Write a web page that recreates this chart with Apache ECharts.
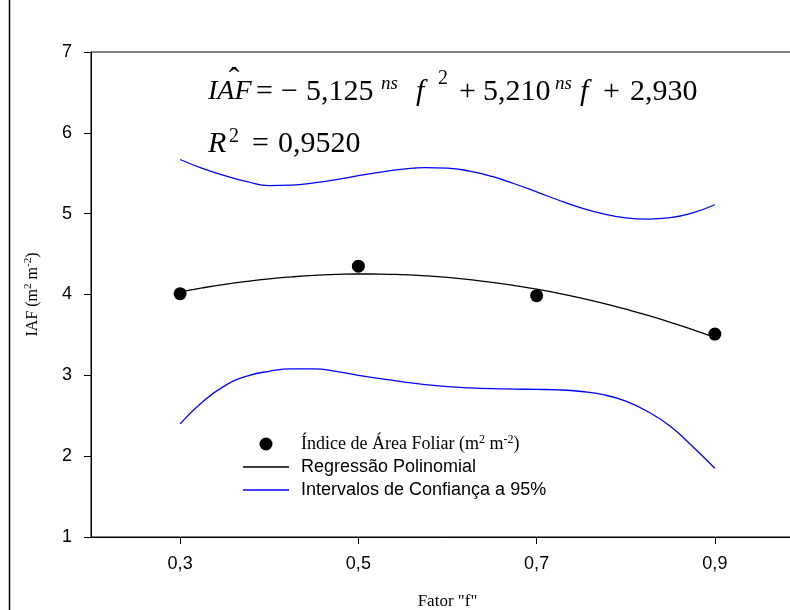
<!DOCTYPE html>
<html>
<head>
<meta charset="utf-8">
<script src="https://cdn.jsdelivr.net/npm/echarts@6/dist/echarts.min.js"></script>
<style>
html,body{margin:0;padding:0;background:#fff;}
#chart{width:790px;height:610px;}
</style>
</head>
<body>
<div id="chart"></div>
<script>
// ---- data ----
const curveF = [0.300, 0.325, 0.350, 0.375, 0.400, 0.425, 0.450, 0.475, 0.500, 0.525, 0.550, 0.575, 0.600,
                0.625, 0.650, 0.675, 0.700, 0.725, 0.750, 0.775, 0.800, 0.825, 0.850, 0.875, 0.900];
const regressionIAF = [4.032, 4.082, 4.126, 4.163, 4.194, 4.218, 4.237, 4.248, 4.254, 4.253, 4.245, 4.231, 4.211,
                       4.184, 4.151, 4.111, 4.066, 4.014, 3.955, 3.890, 3.818, 3.741, 3.656, 3.566, 3.468];
const upperCI = [5.67, 5.56, 5.47, 5.395, 5.347, 5.352, 5.38, 5.42, 5.47, 5.515, 5.55, 5.57, 5.564,
                 5.526, 5.46, 5.37, 5.27, 5.166, 5.072, 4.996, 4.948, 4.932, 4.95, 5.01, 5.11];
const lowerCI = [2.40, 2.67, 2.87, 2.99, 3.05, 3.08, 3.08, 3.05, 3.00, 2.96, 2.92, 2.885, 2.86,
                 2.845, 2.835, 2.83, 2.826, 2.82, 2.80, 2.76, 2.68, 2.55, 2.37, 2.12, 1.85];
const pointF = [0.3, 0.5, 0.7, 0.9];
const pointIAF = [4.01, 4.35, 3.985, 3.51];
const xTickValues = [0.3, 0.5, 0.7, 0.9];
const yMin = 1, yMax = 7, yStep = 1;
const seriesNames = ['Índice de Área Foliar (m2 m-2)', 'Regressão Polinomial', 'Intervalos de Confiança a 95%'];

const zip = (a, b) => a.map((v, i) => [v, b[i]]);

const SERIF = '"Liberation Serif", "Times New Roman", serif';
const SANS = '"Liberation Sans", Arial, sans-serif';

function t(x, y, text, font) {
  return { type: 'text', x: x, y: y, silent: true,
    style: { text: text, font: font, fill: '#000', align: 'left', verticalAlign: 'middle' } };
}
const F30 = '30px ' + SERIF, I30 = 'italic 30px ' + SERIF, I28 = 'italic 28px ' + SERIF,
      I19 = 'italic 19px ' + SERIF, F20 = '20px ' + SERIF;
const LINE_ICON = 'path://M0,0H46V1.3H0Z';

const chart = echarts.init(document.getElementById('chart'), null, { renderer: 'canvas' });
chart.setOption({
  animation: false,
  backgroundColor: '#fff',
  grid: { left: 91, top: 52, width: 713, height: 485, show: true, borderColor: '#000', borderWidth: 1,
          outerBoundsMode: 'none', containLabel: false },
  xAxis: {
    type: 'value', min: 0.2, max: 1.0,
    axisLine: { lineStyle: { color: '#000', width: 1 } },
    axisTick: { show: true, inside: false, length: 7, customValues: xTickValues, lineStyle: { color: '#000' } },
    axisLabel: { customValues: xTickValues, formatter: v => v.toFixed(1).replace('.', ','),
      fontFamily: SANS, fontSize: 18, color: '#000', margin: 18 },
    splitLine: { show: false },
    name: 'Fator "f"', nameLocation: 'middle', nameGap: 56,
    nameTextStyle: { fontFamily: SERIF, fontSize: 17, color: '#000' }
  },
  yAxis: {
    type: 'value', min: yMin, max: yMax, interval: yStep,
    axisLine: { show: true, lineStyle: { color: '#000', width: 1 } },
    axisTick: { show: true, inside: false, length: 7, lineStyle: { color: '#000' } },
    axisLabel: { fontFamily: SANS, fontSize: 18, color: '#000', margin: 19 },
    splitLine: { show: false },
    name: '{n|IAF (m}{s|2}{n| m}{s|-2}{n|)}', nameLocation: 'middle', nameGap: 48,
    nameTextStyle: { color: '#000', rich: {
      n: { fontFamily: SERIF, fontSize: 16, color: '#000', lineHeight: 20 },
      s: { fontFamily: SERIF, fontSize: 11, color: '#000', verticalAlign: 'top', lineHeight: 12 }
    } }
  },
  legend: {
    orient: 'vertical', left: 243, top: 434, padding: 0, itemWidth: 46, itemHeight: 13, itemGap: 5,
    selectedMode: false,
    data: [
      { name: seriesNames[0], icon: 'circle' },
      { name: seriesNames[1], icon: LINE_ICON },
      { name: seriesNames[2], icon: LINE_ICON }
    ],
    formatter: function (name) {
      if (name === seriesNames[0]) return '{p|}{r|Índice de Área Foliar (m}{s|2}{r| m}{s|-2}{r|)}';
      return '{p|}{a|' + name + '}';
    },
    textStyle: { color: '#000', rich: {
      p: { width: 7 },
      r: { fontFamily: SERIF, fontSize: 18, color: '#000', lineHeight: 20 },
      s: { fontFamily: SERIF, fontSize: 12, color: '#000', verticalAlign: 'top', lineHeight: 12 },
      a: { fontFamily: SANS, fontSize: 18, color: '#000', lineHeight: 20 }
    } }
  },
  series: [
    { name: seriesNames[1], type: 'line', smooth: true, showSymbol: false, symbol: 'none',
      data: zip(curveF, regressionIAF), lineStyle: { color: '#000', width: 1.3 }, itemStyle: { color: '#000' }, z: 3 },
    { name: seriesNames[2], type: 'line', smooth: true, showSymbol: false, symbol: 'none',
      data: zip(curveF, upperCI), lineStyle: { color: '#0000ff', width: 1.3 }, itemStyle: { color: '#0000ff' }, z: 2 },
    { name: seriesNames[2], type: 'line', smooth: true, showSymbol: false, symbol: 'none',
      data: zip(curveF, lowerCI), lineStyle: { color: '#0000ff', width: 1.3 }, itemStyle: { color: '#0000ff' }, z: 2 },
    { name: seriesNames[0], type: 'scatter', symbol: 'circle', symbolSize: 13,
      data: zip(pointF, pointIAF), itemStyle: { color: '#000', opacity: 1 }, z: 4 }
  ],
  graphic: [
    { type: 'line', silent: true, shape: { x1: 9.5, y1: 0, x2: 9.5, y2: 610 }, style: { stroke: '#000', lineWidth: 1.5 } },
    t(208, 92, 'IAF', I28),
    { type: 'text', x: 234, y: 81, silent: true,
      style: { text: 'ˆ', font: '32px ' + SERIF, fill: '#000', align: 'center', verticalAlign: 'middle' } },
    t(256, 92, '=', F30),
    t(281, 92, '−', F30),
    t(306, 92, '5,125', F30),
    t(381, 84, 'ns', I19),
    t(416, 92, 'f', I30),
    t(438, 79, '2', F20),
    t(459, 92, '+', F30),
    t(483, 92, '5,210', F30),
    t(555, 84, 'ns', I19),
    t(580, 92, 'f', I30),
    t(603, 92, '+', F30),
    t(630, 92, '2,930', F30),
    t(208, 144, 'R', I30),
    t(229, 137, '2', F20),
    t(252, 144, '=', F30),
    t(278, 144, '0,9520', F30)
  ]
});
</script>
</body>
</html>
